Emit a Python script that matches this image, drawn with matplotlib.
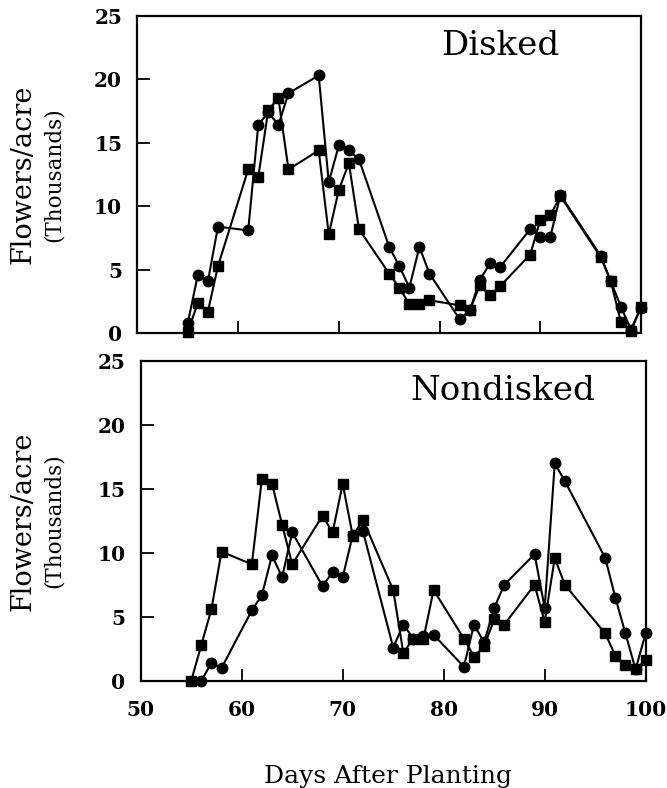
import matplotlib
matplotlib.use("Agg")
import matplotlib.pyplot as plt

# Disked - kroužky a čtverce
disk_circ_days = [55, 56, 57, 58, 61, 62, 63, 64, 65, 68, 69, 70, 71, 72, 75, 76, 77, 78, 79,
                  82, 83, 84, 85, 86, 89, 90, 91, 92, 96, 97, 98, 99, 100]
disk_circ_vals = [0.8, 4.6, 4.1, 8.4, 8.1, 16.4, 17.4, 16.4, 18.9, 20.3, 11.9, 14.8, 14.4, 13.7,
                  6.8, 5.3, 3.6, 6.8, 4.7, 1.1, 1.8, 4.2, 5.5, 5.2, 8.2, 7.6, 7.6, 10.9,
                  6.1, 4.1, 2.1, 0.3, 2.0]
disk_sq_days = [55, 56, 57, 58, 61, 62, 63, 64, 65, 68, 69, 70, 71, 72, 75, 76, 77, 78, 79,
                82, 83, 84, 85, 86, 89, 90, 91, 92, 96, 97, 98, 99, 100]
disk_sq_vals = [0.1, 2.4, 1.7, 5.3, 12.9, 12.3, 17.6, 18.5, 12.9, 14.4, 7.8, 11.3, 13.4, 8.2,
                4.7, 3.6, 2.3, 2.3, 2.6, 2.2, 1.8, 3.8, 3.0, 3.7, 6.2, 8.9, 9.3, 10.8,
                6.0, 4.1, 0.9, 0.15, 2.1]

# Nondisked
nond_circ_days = [56, 57, 58, 61, 62, 63, 64, 65, 68, 69, 70, 71, 72, 75, 76, 77, 78, 79,
                  82, 83, 84, 85, 86, 89, 90, 91, 92, 96, 97, 98, 99, 100]
nond_circ_vals = [0.0, 1.4, 1.0, 5.5, 6.7, 9.8, 8.1, 11.6, 7.4, 8.5, 8.1, 11.4, 11.7,
                  2.6, 4.4, 3.3, 3.5, 3.6, 1.1, 4.4, 3.0, 5.7, 7.5, 9.9, 5.7, 17.0, 15.6,
                  9.6, 6.5, 3.7, 0.9, 3.7]
nond_sq_days = [55, 56, 57, 58, 61, 62, 63, 64, 65, 68, 69, 70, 71, 72, 75, 76, 77, 78, 79,
                82, 83, 84, 85, 86, 89, 90, 91, 92, 96, 97, 98, 99, 100]
nond_sq_vals = [0.0, 2.8, 5.6, 10.1, 9.1, 15.8, 15.4, 12.2, 9.1, 12.9, 11.6, 15.4, 11.3, 12.6,
                7.1, 2.2, 3.3, 3.3, 7.1, 3.3, 1.9, 2.7, 4.8, 4.4, 7.5, 4.6, 9.6, 7.5,
                3.7, 1.95, 1.2, 0.9, 1.6]

x_ticks = [50, 60, 70, 80, 90, 100]
y_ticks = [0, 5, 10, 15, 20, 25]

serif = "DejaVu Serif"

fig = plt.figure(figsize=(6.67, 7.88), dpi=100)
ax1 = fig.add_axes([0.206, 0.577, 0.755, 0.403])
ax2 = fig.add_axes([0.211, 0.136, 0.757, 0.406])


def style_axes(ax, show_xlabels):
    ax.set_xlim(50, 100)
    ax.set_ylim(0, 25)
    ax.set_xticks(x_ticks)
    ax.set_yticks(y_ticks)
    ax.tick_params(direction="in", length=9, width=1.3, color="black")
    ax.tick_params(axis="y", pad=11)
    ax.tick_params(axis="x", pad=14)
    for s in ax.spines.values():
        s.set_linewidth(1.6)
    ax.set_yticklabels([str(v) for v in y_ticks], fontfamily=serif,
                       fontweight="bold", fontsize=14.5)
    if show_xlabels:
        ax.set_xticklabels([str(v) for v in x_ticks], fontfamily=serif,
                           fontweight="bold", fontsize=14.5)
    else:
        ax.set_xticklabels([])


def plot_pair(ax, cd, cv, sd, sv):
    ax.plot(sd, sv, color="black", lw=1.5, marker="s", markersize=7.5,
            markerfacecolor="black", markeredgecolor="black", clip_on=False)
    ax.plot(cd, cv, color="black", lw=1.5, marker="o", markersize=7.5,
            markerfacecolor="black", markeredgecolor="black", clip_on=False)


plot_pair(ax1, disk_circ_days, disk_circ_vals, disk_sq_days, disk_sq_vals)
plot_pair(ax2, nond_circ_days, nond_circ_vals, nond_sq_days, nond_sq_vals)
style_axes(ax1, False)
style_axes(ax2, True)

ax1.text(0.72, 0.877, "Disked", transform=ax1.transAxes, ha="center",
         va="baseline", fontfamily=serif, fontsize=24.5)
ax2.text(0.717, 0.878, "Nondisked", transform=ax2.transAxes, ha="center",
         va="baseline", fontfamily=serif, fontsize=24.5)

# popisky osy y u obou panelů
for yc in [0.7786, 0.339]:
    fig.text(23 / 667, yc, "Flowers/acre", rotation=90, ha="center", va="center",
             fontfamily=serif, fontsize=19.5)
    fig.text(54 / 667, yc, "(Thousands)", rotation=90, ha="center", va="center",
             fontfamily=serif, fontsize=15.5)

fig.text(388 / 667, 1 - 783 / 788, "Days After Planting", ha="center", va="baseline",
         fontfamily=serif, fontsize=18)

fig.savefig("out.png", dpi=100)
